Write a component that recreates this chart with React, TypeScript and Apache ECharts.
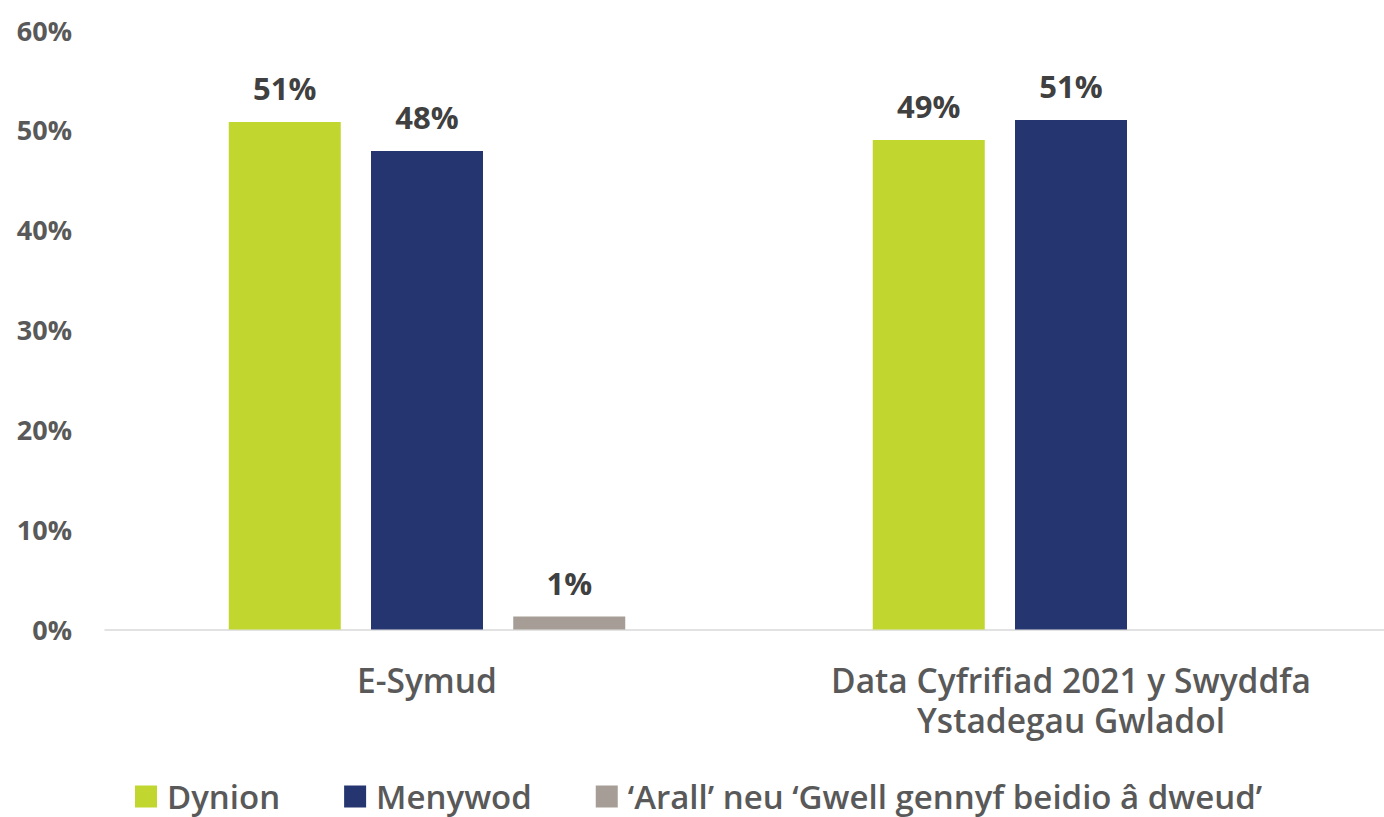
import React, { useEffect, useRef } from "react";
import * as echarts from "echarts";

const categories = ["E-Symud", "Data Cyfrifiad 2021 y Swyddfa\nYstadegau Gwladol"];
const seriesNames = ["Dynion", "Menywod", "‘Arall’ neu ‘Gwell gennyf beidio â dweud’"];
const dynion = [50.8, 49.0];
const menywod = [47.9, 51.0];
const arall: (number | null)[] = [1.3, null];
const colors = ["#C1D72F", "#253570", "#A69E96"];

export default function App() {
  const ref = useRef<HTMLDivElement>(null);
  useEffect(() => {
    if (!ref.current) return;
    const chart = echarts.init(ref.current, undefined, { renderer: "svg" });
    const font = "'Open Sans', sans-serif";
    const label = {
      show: true,
      position: "top",
      distance: 18,
      fontFamily: font,
      fontWeight: "bold",
      fontSize: 31,
      color: "#404040",
      formatter: (p: any) => Math.round(p.value) + "%",
    };
    const datas = [dynion, menywod, arall];
    chart.setOption({
      animation: false,
      grid: { left: 105, top: 30, width: 1288, height: 599.5, containLabel: false },
      legend: {
        data: seriesNames,
        left: 135,
        top: 780,
        padding: 0,
        itemWidth: 22,
        itemHeight: 22,
        itemGap: 64,
        icon: "rect",
        textStyle: {
          fontFamily: font,
          fontSize: 33,
          fontWeight: 600,
          lineHeight: 33,
          color: "#595959",
          padding: [0, 0, 0, 5],
        },
      },
      xAxis: {
        type: "category",
        data: categories,
        axisLine: { lineStyle: { color: "#D9D9D9", width: 1.5 } },
        axisTick: { show: false },
        axisLabel: {
          fontFamily: font,
          fontSize: 33.5,
          fontWeight: 600,
          color: "#595959",
          margin: 30,
          lineHeight: 40,
        },
      },
      yAxis: {
        type: "value",
        min: 0,
        max: 60,
        interval: 10,
        splitLine: { show: false },
        axisLine: { show: false },
        axisTick: { show: false },
        axisLabel: {
          formatter: "{value}%",
          fontFamily: font,
          fontSize: 27,
          fontWeight: "bold",
          color: "#595959",
          margin: 33,
        },
      },
      series: seriesNames.map((n, i) => ({
        name: n,
        type: "bar",
        data: datas[i],
        barWidth: 112,
        barGap: "27%",
        itemStyle: { color: colors[i] },
        label,
      })),
    });
    return () => chart.dispose();
  }, []);
  return (
    <div
      ref={ref}
      style={{ position: "fixed", left: 0, top: 0, width: 1400, height: 817, background: "#fff" }}
    />
  );
}
